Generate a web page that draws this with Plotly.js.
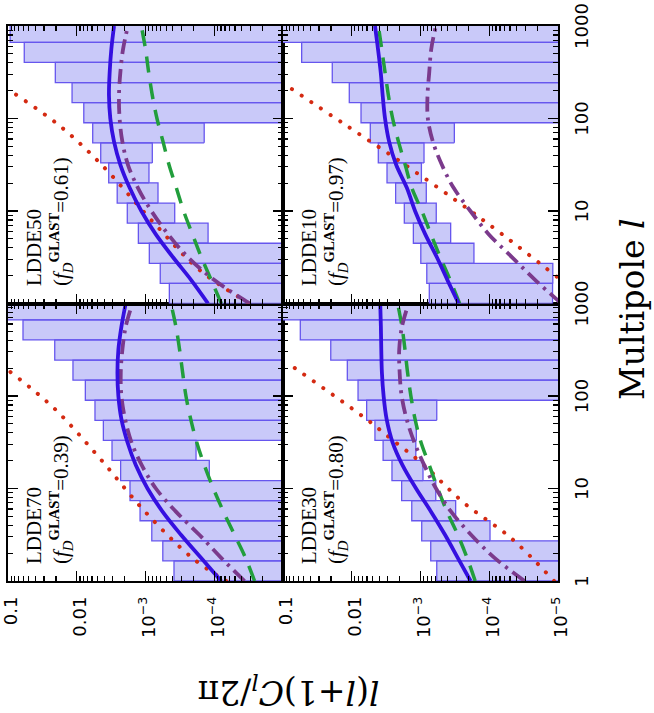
<!DOCTYPE html>
<html>
<head>
<meta charset="utf-8">
<script src="https://cdn.plot.ly/plotly-3.0.1.min.js"></script>
<style>
html,body{margin:0;padding:0;background:#fff;overflow:hidden;width:654px;height:713px}
#rot{position:absolute;left:0;top:0;width:713px;height:654px;transform-origin:0 0;transform:translate(0px,713px) rotate(-90deg);}
</style>
</head>
<body>
<div id="rot"><div id="chart" style="width:713px;height:654px"></div></div>
<script>
// ---------- data ----------
const panelNames = ['LDDE70', 'LDDE50', 'LDDE30', 'LDDE10'];
const fDvalues = ['0.39', '0.61', '0.80', '0.97'];

// multipole bin edges (equal in ln l)
const binEdges = [1, 1.65, 2.72, 4.48, 7.39, 12.18, 20.09, 33.12, 54.6, 90.0, 148.4, 244.7, 403.4, 665.1, 1096.6];
// multipoles at which curves were read
const lGrid = [1, 1.78, 3.16, 5.62, 10, 17.8, 31.6, 56.2, 100, 178, 316, 562, 1000];

// LDDE70
const boxHi70 = [3.85e-4, 5.6e-4, 8.1e-4, 1.2e-3, 1.68e-3, 2.3e-3, 3.07e-3, 4.1e-3, 5.43e-3, 7.5e-3, 0.01135, 0.0209, 0.0605, 0.15];
const boxLo70 = [1e-6, 1e-6, 1e-6, 1e-6, 1e-6, 1.18e-4, 1.84e-4, 1e-6, 1e-6, 1e-6, 1e-6, 1e-6, 1e-6, 1e-6];
const blue70 = [7.94e-5, 1.56e-4, 3.05e-4, 5.65e-4, 9.35e-4, 1.38e-3, 1.83e-3, 2.24e-3, 2.48e-3, 2.56e-3, 2.48e-3, 2.24e-3, 1.94e-3];
const purple70 = [3.63e-5, 7.94e-5, 1.65e-4, 3.61e-4, 7.06e-4, 1.13e-3, 1.60e-3, 1.98e-3, 2.24e-3, 2.29e-3, 2.17e-3, 1.94e-3, 1.55e-3];
const green70 = [2.59e-5, 3.51e-5, 5.08e-5, 7.34e-5, 1.03e-4, 1.39e-4, 1.80e-4, 2.20e-4, 2.58e-4, 2.88e-4, 3.19e-4, 3.61e-4, 4.27e-4];
const redL70 = [1, 1.76, 5.73, 21.7, 74.1, 182];
const red70 = [6.71e-5, 2.06e-4, 1.04e-3, 4.74e-3, 0.0215, 0.0925];

// LDDE50
const boxHi50 = [4.5e-4, 6.1e-4, 8.8e-4, 1.27e-3, 1.84e-3, 2.58e-3, 3.43e-3, 4.48e-3, 5.86e-3, 7.9e-3, 0.0117, 0.0205, 0.058, 0.093];
const boxLo50 = [1e-6, 1e-6, 1e-6, 1.23e-4, 3.76e-4, 6.58e-4, 8.9e-4, 7.96e-4, 1.4e-4, 1e-6, 1e-6, 1e-6, 1e-6, 1e-6];
const blue50 = [1.23e-4, 2.15e-4, 3.98e-4, 7.11e-4, 1.15e-3, 1.70e-3, 2.32e-3, 2.87e-3, 3.25e-3, 3.40e-3, 3.32e-3, 3.14e-3, 2.87e-3];
const purple50 = [3.05e-5, 9.86e-5, 2.41e-4, 4.71e-4, 8.22e-4, 1.29e-3, 1.80e-3, 2.17e-3, 2.38e-3, 2.43e-3, 2.32e-3, 2.12e-3, 1.80e-3];
const green50 = [7.89e-5, 1.10e-4, 1.54e-4, 2.08e-4, 2.79e-4, 3.56e-4, 4.55e-4, 5.56e-4, 6.81e-4, 7.96e-4, 8.99e-4, 1.00e-3, 1.15e-3];
const redL50 = [1.02, 2.30, 7.48, 33.3, 83.4, 185];
const red50 = [3.23e-5, 1.63e-4, 7.60e-4, 4.65e-3, 0.0177, 0.080];

// LDDE30
const boxHi30 = [5.8e-4, 7.1e-4, 9.6e-4, 1.34e-3, 1.88e-3, 2.6e-3, 3.5e-3, 4.6e-3, 6.07e-3, 8.1e-3, 0.0116, 0.0202, 0.056, 0.15];
const boxLo30 = [1e-6, 1e-6, 9.75e-5, 3.08e-4, 6.0e-4, 9.2e-4, 1.17e-3, 1.15e-3, 5.8e-4, 1e-6, 1e-6, 1e-6, 1e-6, 1e-6];
const blue30 = [1.87e-4, 2.87e-4, 4.40e-4, 7.03e-4, 1.16e-3, 1.82e-3, 2.55e-3, 3.11e-3, 3.44e-3, 3.64e-3, 3.72e-3, 3.77e-3, 3.85e-3];
const purple30 = [3.06e-5, 8.38e-5, 1.84e-4, 3.59e-4, 5.94e-4, 8.79e-4, 1.23e-3, 1.59e-3, 1.88e-3, 2.01e-3, 2.04e-3, 1.86e-3, 1.49e-3];
const green30 = [1.60e-4, 2.10e-4, 2.87e-4, 4.11e-4, 5.62e-4, 7.43e-4, 9.84e-4, 1.20e-3, 1.38e-3, 1.54e-3, 1.68e-3, 1.86e-3, 2.15e-3];
const redL30 = [1, 2.90, 6.93, 19.1, 35.6, 54.1, 222];
const red30 = [1.14e-5, 4.79e-5, 2.30e-4, 9.84e-4, 2.84e-3, 5.70e-3, 0.0818];

// LDDE10
const boxHi10 = [7.45e-4, 8.1e-4, 9.9e-4, 1.27e-3, 1.72e-3, 2.3e-3, 3.07e-3, 4.11e-3, 5.37e-3, 7.33e-3, 0.01086, 0.0192, 0.0535, 0.15];
const boxLo10 = [1.2e-5, 1.19e-5, 1.67e-4, 3.64e-4, 5.9e-4, 8.24e-4, 9.7e-4, 8.89e-4, 3.22e-4, 1e-6, 1e-6, 1e-6, 1e-6, 1e-6];
const blue10 = [2.79e-4, 4.04e-4, 5.78e-4, 8.55e-4, 1.20e-3, 1.58e-3, 2.26e-3, 2.86e-3, 3.28e-3, 3.55e-3, 3.79e-3, 4.15e-3, 4.59e-3];
const purple10 = [8.93e-6, 2.12e-5, 4.65e-5, 1.02e-4, 1.88e-4, 3.30e-4, 4.89e-4, 6.61e-4, 7.82e-4, 7.91e-4, 7.46e-4, 6.98e-4, 5.97e-4];
const green10 = [2.70e-4, 3.69e-4, 5.16e-4, 7.06e-4, 9.57e-4, 1.34e-3, 1.67e-3, 2.09e-3, 2.54e-3, 2.93e-3, 3.28e-3, 3.66e-3, 4.10e-3];
const redL10 = [1.95, 5.50, 12.4, 32.8, 84.7, 218];
const red10 = [1.04e-5, 6.28e-5, 2.79e-4, 1.81e-3, 0.0122, 0.0817];

// tick labels
const lTickVals = [1, 10, 100, 1000];
const lTickTextLeft = ['1', '10', '100', '1000'];
const lTickTextRight = ['', '10', '100', '1000'];
const cTickVals = [0.1, 0.01, 1e-3, 1e-4, 1e-5];
const cTickTextTop = ['0.1', '0.01', '10<sup>\u22123</sup>', '10<sup>\u22124</sup>', ''];
const cTickTextBottom = ['0.1', '0.01', '10<sup>\u22123</sup>', '10<sup>\u22124</sup>', '10<sup>\u22125</sup>'];

// ---------- build ----------
const panels = [
  {hi: boxHi70, lo: boxLo70, blue: blue70, purple: purple70, green: green70, redL: redL70, red: red70, xa: 'x', ya: 'y'},
  {hi: boxHi50, lo: boxLo50, blue: blue50, purple: purple50, green: green50, redL: redL50, red: red50, xa: 'x2', ya: 'y2'},
  {hi: boxHi30, lo: boxLo30, blue: blue30, purple: purple30, green: green30, redL: redL30, red: red30, xa: 'x3', ya: 'y3'},
  {hi: boxHi10, lo: boxLo10, blue: blue10, purple: purple10, green: green10, redL: redL10, red: red10, xa: 'x4', ya: 'y4'}
];

const BOX_FILL = '#c9c9f9', BOX_LINE = '#6656ee';
const BLUE = '#3510e0', PURPLE = '#7b3a8c', GREEN = '#229e3c', RED = '#d42a12';

const traces = [];
panels.forEach(function (p) {
  const xs = [], ys = [];
  for (let i = 0; i < p.hi.length; i++) {
    xs.push(binEdges[i], binEdges[i], binEdges[i + 1], binEdges[i + 1], binEdges[i], null);
    ys.push(p.lo[i], p.hi[i], p.hi[i], p.lo[i], p.lo[i], null);
  }
  traces.push({x: xs, y: ys, xaxis: p.xa, yaxis: p.ya, mode: 'lines', fill: 'toself',
    fillcolor: BOX_FILL, line: {color: BOX_LINE, width: 1.3}, hoverinfo: 'skip', showlegend: false});
  traces.push({x: p.redL, y: p.red, xaxis: p.xa, yaxis: p.ya, mode: 'lines',
    line: {color: RED, width: 3.5, dash: '3.5px,8px', shape: 'spline'}, showlegend: false});
  traces.push({x: lGrid, y: p.green, xaxis: p.xa, yaxis: p.ya, mode: 'lines',
    line: {color: GREEN, width: 3.5, dash: '16px,11px', shape: 'spline'}, showlegend: false});
  traces.push({x: lGrid, y: p.purple, xaxis: p.xa, yaxis: p.ya, mode: 'lines',
    line: {color: PURPLE, width: 3.8, dash: '15px,6px,3px,6px', shape: 'spline'}, showlegend: false});
  traces.push({x: lGrid, y: p.blue, xaxis: p.xa, yaxis: p.ya, mode: 'lines',
    line: {color: BLUE, width: 3.8, shape: 'spline'}, showlegend: false});
});

const lMinor = [], cMinor = [];
for (let d = 0; d < 3; d++) for (let m = 2; m <= 9; m++) lMinor.push(m * Math.pow(10, d));
for (let d = -5; d < -1; d++) for (let m = 2; m <= 9; m++) cMinor.push(m * Math.pow(10, d));

const tickFont = {family: 'DejaVu Sans', size: 18, color: '#000'};
function lAxis(domain, anchor, showLabels, text) {
  return {type: 'log', range: [0, 3.0], domain: domain, anchor: anchor,
    showline: true, linecolor: '#000', linewidth: 2, mirror: 'ticks',
    ticks: 'inside', ticklen: 10, tickwidth: 1.4, tickcolor: '#000',
    tickmode: 'array', tickvals: lTickVals, ticktext: text, showticklabels: showLabels,
    tickfont: tickFont, tickangle: 0, ticklabelstandoff: 6,
    minor: {ticks: 'inside', ticklen: 5, tickwidth: 1.2, tickcolor: '#000', tickmode: 'array', tickvals: lMinor, showgrid: false},
    showgrid: false, zeroline: false};
}
function cAxis(domain, anchor, showLabels, text) {
  return {type: 'log', range: [-5, -1], domain: domain, anchor: anchor,
    showline: true, linecolor: '#000', linewidth: 2, mirror: 'ticks',
    ticks: 'inside', ticklen: 10, tickwidth: 1.4, tickcolor: '#000',
    tickmode: 'array', tickvals: cTickVals, ticktext: text, showticklabels: showLabels,
    tickfont: tickFont, tickangle: 0, ticklabelstandoff: 10, ticklabelshift: 3,
    minor: {ticks: 'inside', ticklen: 5, tickwidth: 1.2, tickcolor: '#000', tickmode: 'array', tickvals: cMinor, showgrid: false},
    showgrid: false, zeroline: false};
}

const annFont = {family: 'Liberation Serif', size: 21, color: '#000'};
const annotations = [];
panels.forEach(function (p, i) {
  annotations.push({
    xref: p.xa + ' domain', yref: p.ya + ' domain', x: 0.055, y: 0.955,
    xanchor: 'left', yanchor: 'top', align: 'left', showarrow: false, font: annFont,
    text: panelNames[i] + '<br>(<i>f</i><sub><i>D</i></sub><sup><b>GLAST</b></sup>=' + fDvalues[i] + ')'
  });
});
annotations.push({xref: 'paper', yref: 'paper', x: 0.49, y: 0, yshift: -74, xanchor: 'center', yanchor: 'middle',
  showarrow: false, text: 'Multipole <i>l</i>', font: {family: 'DejaVu Serif', size: 33, color: '#000'}});
annotations.push({xref: 'paper', yref: 'paper', x: 0, xshift: -109, y: 0.49, xanchor: 'center', yanchor: 'middle',
  textangle: -90, showarrow: false, text: '<i>l</i>(<i>l</i>+1)<i>C<sub>l</sub></i>/2\u03c0',
  font: {family: 'DejaVu Serif', size: 33, color: '#000'}});

const layout = {
  width: 713, height: 654,
  margin: {l: 132, r: 26, t: 8, b: 96},
  paper_bgcolor: '#fff', plot_bgcolor: '#fff', showlegend: false,
  xaxis: lAxis([0, 0.5], 'y', false, lTickTextLeft),
  xaxis2: lAxis([0.5, 1], 'y2', false, lTickTextRight),
  xaxis3: lAxis([0, 0.5], 'y3', true, lTickTextLeft),
  xaxis4: lAxis([0.5, 1], 'y4', true, lTickTextRight),
  yaxis: cAxis([0.5, 1], 'x', true, cTickTextTop),
  yaxis2: cAxis([0.5, 1], 'x2', false, cTickTextTop),
  yaxis3: cAxis([0, 0.5], 'x3', true, cTickTextBottom),
  yaxis4: cAxis([0, 0.5], 'x4', false, cTickTextBottom),
  annotations: annotations
};

Plotly.newPlot('chart', traces, layout, {displayModeBar: false, staticPlot: true}).then(function () {
  // round dots for the red dotted curves
  document.querySelectorAll('#chart path.js-line').forEach(function (el) {
    if ((el.style.stroke || '').replace(/\s/g, '') === 'rgb(212,42,18)') {
      el.style.strokeLinecap = 'round';
      el.style.strokeDasharray = '0.1px,11.5px';
      el.style.strokeWidth = '4px';
    }
  });
});
</script>
</body>
</html>
